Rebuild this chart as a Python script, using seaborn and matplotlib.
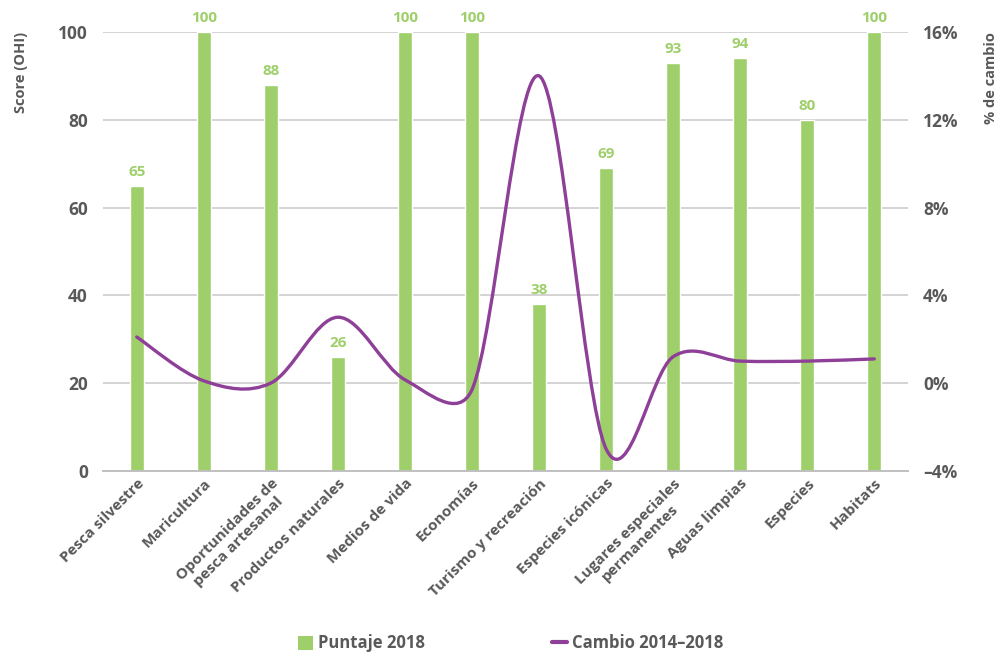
import numpy as np
import pandas as pd
import matplotlib
matplotlib.use("Agg")
import matplotlib.pyplot as plt
import seaborn as sns
from matplotlib.path import Path
from matplotlib.patches import PathPatch, Patch
from matplotlib.lines import Line2D
from matplotlib.ticker import FuncFormatter

# datos
categorias = ["Pesca silvestre", "Maricultura", "Oportunidades de\npesca artesanal",
              "Productos naturales", "Medios de vida", "Economías",
              "Turismo y recreación", "Especies icónicas",
              "Lugares especiales\npermanentes", "Aguas limpias", "Especies", "Habitats"]
puntaje_2018 = [65, 100, 88, 26, 100, 100, 38, 69, 93, 94, 80, 100]
cambio_2014_2018 = [2.1, 0.1, 0.0, 3.0, 0.15, -0.3, 14.0, -3.0, 1.2, 1.0, 1.0, 1.1]

verde = "#9fcf6b"
morado = "#8e3f97"
gris = "#595959"

sns.set_theme(style="white")
plt.rcParams["font.family"] = ["Open Sans", "DejaVu Sans"]
plt.rcParams["font.weight"] = "bold"

df = pd.DataFrame({"cat": categorias, "puntaje": puntaje_2018, "cambio": cambio_2014_2018})

fig = plt.figure(figsize=(10.02, 6.53), dpi=100)
ax = fig.add_axes([0.103, 0.279, 0.803, 0.672])

sns.barplot(data=df, x="cat", y="puntaje", color=verde, width=0.21,
            saturation=1, ax=ax, zorder=2)
ax.set_xlim(-0.5, len(categorias) - 0.5)
ax.set_ylim(0, 100)
ax.set_yticks(range(0, 101, 20))
ax.grid(axis="y", color="#cccccc", lw=1.2, zorder=0)
for s in ["top", "right", "left"]:
    ax.spines[s].set_visible(False)
ax.spines["bottom"].set_color("#c0c0c0")
ax.spines["bottom"].set_linewidth(1.4)
ax.tick_params(axis="y", length=0, pad=11, labelsize=12.5, labelcolor=gris)
ax.tick_params(axis="x", length=0, pad=4, labelsize=11, labelcolor=gris)
plt.setp(ax.get_xticklabels(), rotation=45, ha="right", rotation_mode="anchor",
         multialignment="center", fontweight="bold")
plt.setp(ax.get_yticklabels(), fontweight="bold")
ax.set_xlabel("")
ax.set_ylabel("Score (OHI)", loc="top", fontsize=10.5, color=gris, fontweight="bold")
ax.yaxis.set_label_coords(-0.093, 1.0)

# etiquetas de valor
for i, v in enumerate(puntaje_2018):
    ax.annotate(f"{v}", (i, v), xytext=(0, 5), textcoords="offset points",
                ha="center", va="bottom", fontsize=11, color=verde, fontweight="bold")

# eje derecho
ax2 = ax.twinx()
ax2.set_ylim(-4, 16)
ax2.set_yticks(range(-4, 17, 4))
ax2.yaxis.set_major_formatter(FuncFormatter(lambda y, _: f"{y:.0f}%".replace("-", "–")))
for s in ax2.spines.values():
    s.set_visible(False)
ax2.tick_params(axis="y", length=0, pad=11, labelsize=12.5, labelcolor=gris)
plt.setp(ax2.get_yticklabels(), fontweight="bold")
ax2.set_ylabel("% de cambio", loc="top", fontsize=10.5, color=gris, fontweight="bold",
               rotation=90)
ax2.yaxis.set_label_coords(1.095, 1.0)
ax2.grid(False)

# línea suavizada: Bezier tipo Excel (tangentes 1/6, limitadas a medio tramo)
xs = np.arange(len(cambio_2014_2018), dtype=float)
ys = np.array(cambio_2014_2018, dtype=float)
tr = ax2.transData
pts = tr.transform(np.column_stack([xs, ys]))
ext = np.vstack([pts[0], pts, pts[-1]])
verts = [pts[0]]
codes = [Path.MOVETO]
for i in range(len(pts) - 1):
    p0, p1, p2, p3 = ext[i], ext[i + 1], ext[i + 2], ext[i + 3]
    seg = np.linalg.norm(p2 - p1)
    o1 = (p2 - p0) / 6
    o2 = (p3 - p1) / 6
    for o in (o1, o2):
        n = np.linalg.norm(o)
        if n > seg / 2:
            o *= (seg / 2) / n
    verts += [p1 + o1, p2 - o2, p2]
    codes += [Path.CURVE4] * 3
verts = tr.inverted().transform(np.array(verts))
ax2.add_patch(PathPatch(Path(verts, codes), facecolor="none", edgecolor=morado,
                        lw=2.4, capstyle="round", joinstyle="round", zorder=3))

handles = [Patch(facecolor=verde, edgecolor="none"),
           Line2D([0], [0], color=morado, lw=3)]
fig.legend(handles, ["Puntaje 2018", "Cambio 2014–2018"], loc="lower center",
           bbox_to_anchor=(0.51, -0.022), ncol=2, frameon=False,
           handlelength=0.9, handleheight=0.9, columnspacing=7.6, handletextpad=0.3,
           labelcolor=gris, prop={"weight": "bold", "size": 12})

fig.savefig("out.png", dpi=100)
